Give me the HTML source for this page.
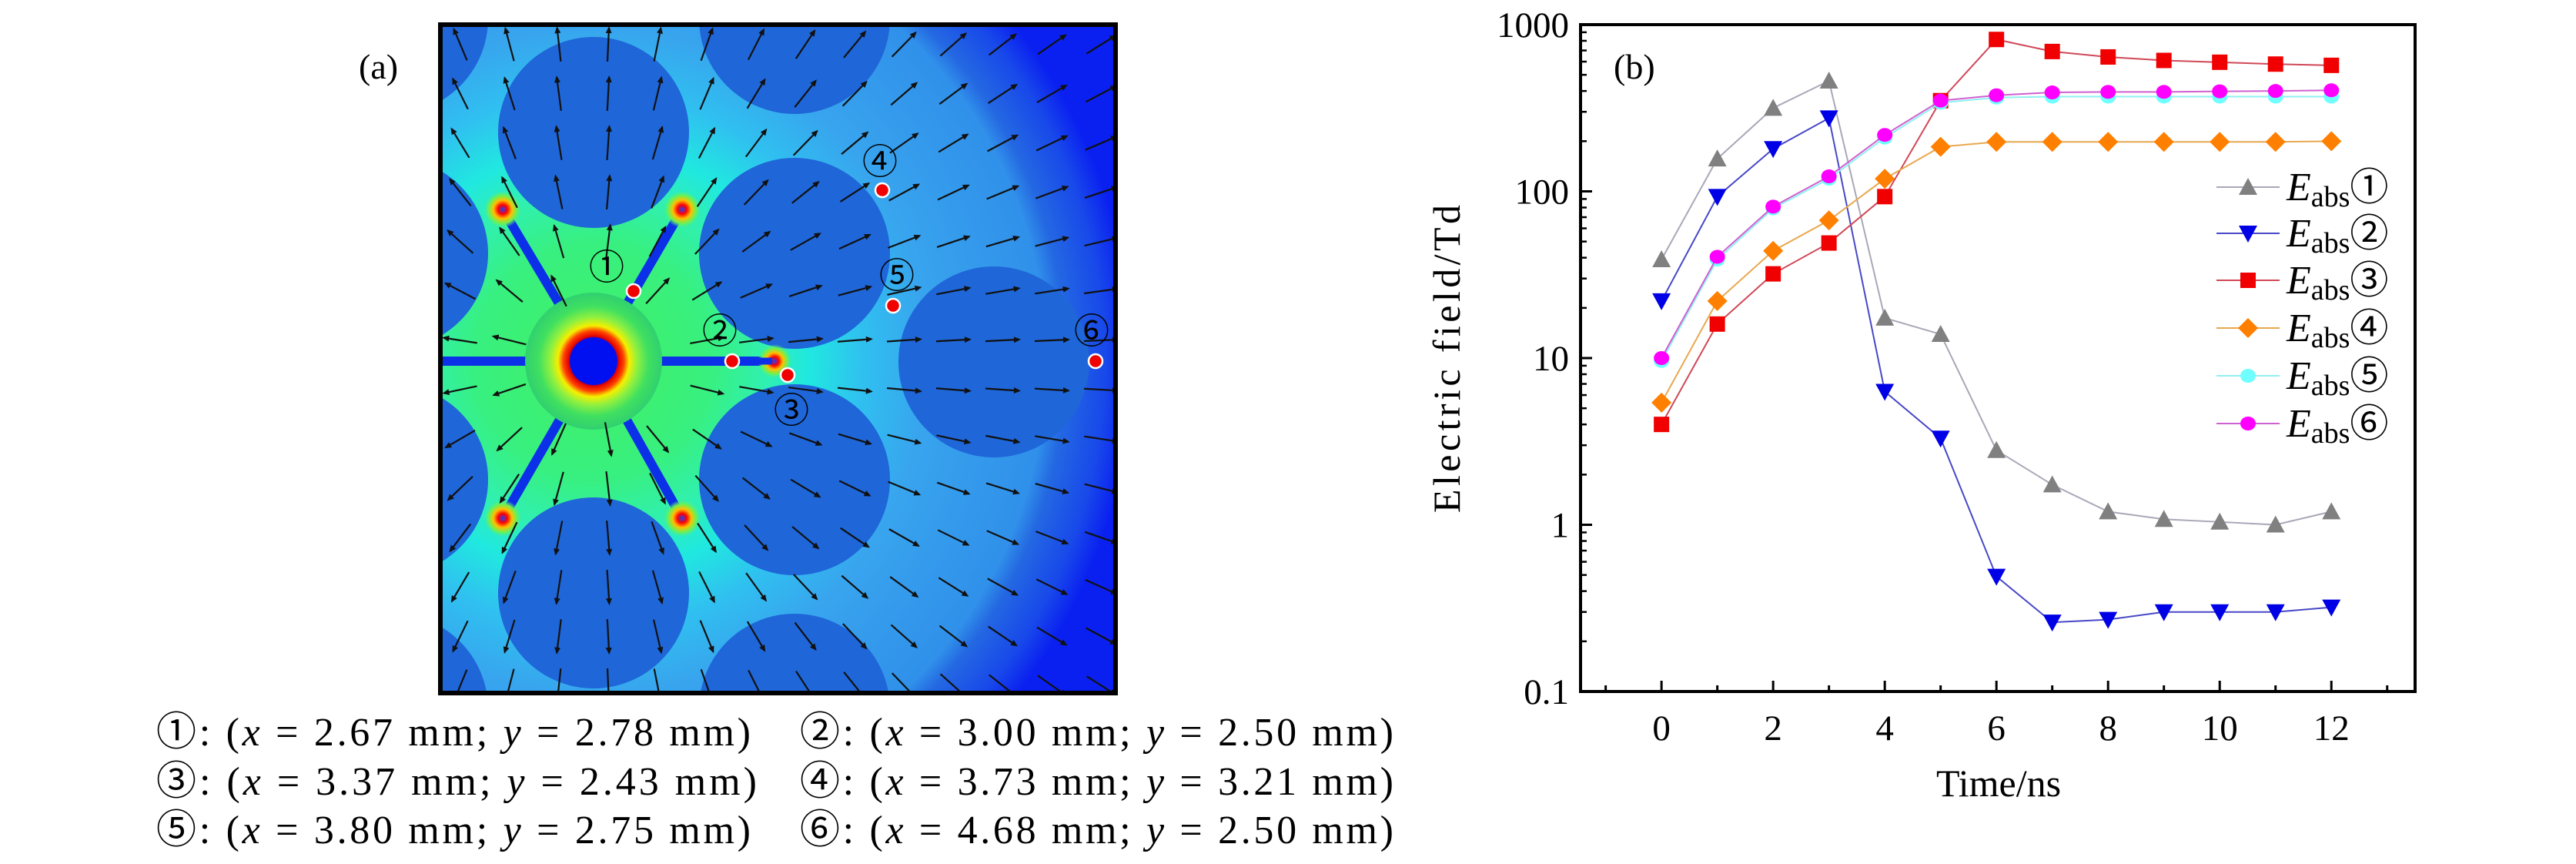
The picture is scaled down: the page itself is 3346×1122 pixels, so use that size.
<!DOCTYPE html>
<html><head><meta charset="utf-8"><style>
html,body{margin:0;padding:0;background:#fff;}
svg{display:block;}
.serif{font-family:"Liberation Serif",serif;}
</style></head><body>
<svg id="root" width="3346" height="1122" viewBox="0 0 3346 1122" xmlns="http://www.w3.org/2000/svg">
<defs>
  <clipPath id="fclip"><rect x="572" y="32" width="877" height="868"/></clipPath>
  <radialGradient id="bgGrad" gradientUnits="userSpaceOnUse" cx="771" cy="469" r="700">
    <stop offset="0" stop-color="#40f060"/>
    <stop offset="0.22" stop-color="#38f080"/>
    <stop offset="0.32" stop-color="#30f0b0"/>
    <stop offset="0.40" stop-color="#20e8e0"/>
    <stop offset="0.50" stop-color="#30c0f0"/>
    <stop offset="0.62" stop-color="#38a4ee"/>
    <stop offset="0.84" stop-color="#3090ea"/>
    <stop offset="0.875" stop-color="#2468e2"/>
    <stop offset="0.95" stop-color="#1848ea"/>
    <stop offset="1" stop-color="#0a20f0"/>
  </radialGradient>
  <radialGradient id="coreGrad" gradientUnits="userSpaceOnUse" cx="771" cy="469" r="89">
    <stop offset="0.34" stop-color="#0010f0"/>
    <stop offset="0.36" stop-color="#e00000"/>
    <stop offset="0.44" stop-color="#ff4000"/>
    <stop offset="0.52" stop-color="#f4f000"/>
    <stop offset="0.64" stop-color="#90f040"/>
    <stop offset="0.8" stop-color="#40e060"/>
    <stop offset="1" stop-color="#30d070"/>
  </radialGradient>
  <radialGradient id="hotGrad">
    <stop offset="0" stop-color="#2040ff"/>
    <stop offset="0.25" stop-color="#ff0000"/>
    <stop offset="0.5" stop-color="#ffc000"/>
    <stop offset="0.75" stop-color="#70f050"/>
    <stop offset="1" stop-color="#50f080" stop-opacity="0"/>
  </radialGradient>
  <marker id="ah" markerWidth="10" markerHeight="10" refX="7" refY="4" orient="auto" markerUnits="userSpaceOnUse"><path d="M0,0 L9,4 L0,8 z" fill="#111"/></marker>
</defs>

<g id="panelA">
  <g clip-path="url(#fclip)" id="fieldG">
    <rect x="572" y="32" width="877" height="868" fill="url(#bgGrad)"/>
  </g>
  <rect x="572" y="32" width="877" height="868" fill="none" stroke="#000" stroke-width="6"/>
  <text x="466" y="102" class="serif" font-size="46">(a)</text>
</g>

<g id="captions" class="serif" font-size="52">
  <text x="203" y="968" textLength="772" lengthAdjust="spacing"><tspan font-family="Noto Sans CJK JP, sans-serif">①</tspan>: (<tspan font-style="italic">x</tspan> = 2.67 mm; <tspan font-style="italic">y</tspan> = 2.78 mm)</text>
  <text x="1039" y="968" textLength="771" lengthAdjust="spacing"><tspan font-family="Noto Sans CJK JP, sans-serif">②</tspan>: (<tspan font-style="italic">x</tspan> = 3.00 mm; <tspan font-style="italic">y</tspan> = 2.50 mm)</text>
  <text x="203" y="1032" textLength="780" lengthAdjust="spacing"><tspan font-family="Noto Sans CJK JP, sans-serif">③</tspan>: (<tspan font-style="italic">x</tspan> = 3.37 mm; <tspan font-style="italic">y</tspan> = 2.43  mm)</text>
  <text x="1039" y="1032" textLength="771" lengthAdjust="spacing"><tspan font-family="Noto Sans CJK JP, sans-serif">④</tspan>: (<tspan font-style="italic">x</tspan> = 3.73 mm; <tspan font-style="italic">y</tspan> = 3.21 mm)</text>
  <text x="203" y="1095" textLength="772" lengthAdjust="spacing"><tspan font-family="Noto Sans CJK JP, sans-serif">⑤</tspan>: (<tspan font-style="italic">x</tspan> = 3.80 mm; <tspan font-style="italic">y</tspan> = 2.75 mm)</text>
  <text x="1039" y="1095" textLength="771" lengthAdjust="spacing"><tspan font-family="Noto Sans CJK JP, sans-serif">⑥</tspan>: (<tspan font-style="italic">x</tspan> = 4.68 mm; <tspan font-style="italic">y</tspan> = 2.50 mm)</text>
</g>

<g id="chart"></g>
</svg>

<script>
// ---------- chart data ----------
const times = [0,1,2,3,4,5,6,7,8,9,10,11,12];
const e1 = [39,157,316,460,17.4,13.9,2.8,1.74,1.2,1.08,1.04,1.0,1.2];
const e2 = [22,93,180,275,6.3,3.3,0.49,0.26,0.27,0.3,0.3,0.3,0.32];
const e3 = [4.0,16,32,49,93,350,815,690,640,610,595,580,570];
const e4 = [5.4,22,44,67,119,185,198,198,198,198,198,198,200];
const e5 = [9.6,39,79,119,210,340,365,370,370,370,370,370,370];
const e6 = [10,40.5,81,123,218,350,377,392,395,395,398,400,404];
const yTickVals = [0.1,1,10,100,1000];
const yTickLabels = ["0.1","1","10","100","1000"];
const xTickVals = [0,2,4,6,8,10,12];
const xTickLabels = ["0","2","4","6","8","10","12"];
const legendLabels = ["①","②","③","④","⑤","⑥"];

const NS = "http://www.w3.org/2000/svg";
function mk(tag, attrs, parent){const e=document.createElementNS(NS,tag);for(const k in attrs)e.setAttribute(k,attrs[k]);if(parent)parent.appendChild(e);return e;}

const L=2053,R=3137,T=32,B=898;
const X0=-1.45,X1=13.5;
function xs(t){return L+(t-X0)/(X1-X0)*(R-L);}
function ys(v){return T+(3-Math.log10(v))*(B-T)/4;}

const chart=document.getElementById('chart');

const frame=mk('rect',{x:L,y:T,width:R-L,height:B-T,fill:'none',stroke:'#000','stroke-width':4},chart);



for(let d=-1;d<3;d++){
  for(let m=2;m<10;m++){
    const yy=ys(m*Math.pow(10,d));
    const tk=mk('line',{x1:L,x2:L+8,y1:yy,y2:yy,stroke:'#000','stroke-width':2.5},chart);
    
    
  }
}
yTickVals.forEach((v,i)=>{
  const yy=ys(v);
  const tk=mk('line',{x1:L,x2:L+15,y1:yy,y2:yy,stroke:'#000','stroke-width':3},chart);
  
  
  const lb=mk('text',{x:2038,y:yy+16,'text-anchor':'end','font-size':47,'font-family':'Liberation Serif, serif'},chart);
  lb.textContent=yTickLabels[i];
  
  
});
for(let t=-1;t<=13;t++){
  const xx=xs(t);const major=(t%2===0);
  const tk=mk('line',{x1:xx,x2:xx,y1:B,y2:B-(major?14:8),stroke:'#000','stroke-width':3},chart);
  
  
}
xTickVals.forEach((v,i)=>{
  const lb=mk('text',{x:xs(v),y:961,'text-anchor':'middle','font-size':47,'font-family':'Liberation Serif, serif'},chart);
  lb.textContent=xTickLabels[i];
  
  
});
const xt=mk('text',{x:2596,y:1034,'text-anchor':'middle','font-size':50,'font-family':'Liberation Serif, serif'},chart);
xt.textContent='Time/ns';


const yt=mk('text',{x:0,y:0,'text-anchor':'middle','font-size':50,'font-family':'Liberation Serif, serif',transform:'translate(1896,466) rotate(-90)',textLength:400,lengthAdjust:'spacing'},chart);
yt.textContent='Electric field/Td';


const bl=mk('text',{x:2096,y:102,'font-size':46,'font-family':'Liberation Serif, serif'},chart);
bl.textContent='(b)';



const series=[
 {vals:e1,fill:'#808080',line:'#a8a8b8',shape:'up'},
 {vals:e2,fill:'#0000e6',line:'#4848c8',shape:'down'},
 {vals:e3,fill:'#f00000',line:'#d04858',shape:'square'},
 {vals:e4,fill:'#ff8000',line:'#e8a850',shape:'diamond'},
 {vals:e5,fill:'#70ffff',line:'#90f0f0',shape:'circle'},
 {vals:e6,fill:'#ff00ff',line:'#d060d0',shape:'circle'}
];
function marker(shape,cx,cy,fill,g,sc){
  sc=sc||1;let e;
  if(shape==='up'){const w=12*sc,h=10*sc;e=mk('polygon',{points:`${cx-w},${cy+h} ${cx+w},${cy+h} ${cx},${cy-h-2}`,fill:fill},g);}
  else if(shape==='down'){const w=12*sc,h=10*sc;e=mk('polygon',{points:`${cx-w},${cy-h} ${cx+w},${cy-h} ${cx},${cy+h+2}`,fill:fill},g);}
  else if(shape==='square'){const s=10*sc;e=mk('rect',{x:cx-s,y:cy-s,width:2*s,height:2*s,fill:fill},g);}
  else if(shape==='diamond'){const s=13*sc;e=mk('polygon',{points:`${cx},${cy-s} ${cx+s},${cy} ${cx},${cy+s} ${cx-s},${cy}`,fill:fill},g);}
  else {e=mk('ellipse',{cx:cx,cy:cy,rx:10*sc,ry:9*sc,fill:fill},g);}
  return e;
}
series.forEach((s,si)=>{
  const g=mk('g',{},chart);
  
  
  const pts=times.map((t,i)=>xs(t)+','+ys(s.vals[i])).join(' ');
  const pl=mk('polyline',{points:pts,fill:'none',stroke:s.line,'stroke-width':2},g);
  
  
  times.forEach((t,i)=>{
    const m=marker(s.shape,xs(t),ys(s.vals[i]),s.fill,g);
    
    
  });
});

const legYs=[243,303,364,426,488,550];
const lg=mk('g',{},chart);


series.forEach((s,i)=>{
  const y=legYs[i];
  const row=mk('g',{},lg);
  
  
  mk('line',{x1:2879,x2:2961,y1:y,y2:y,stroke:s.line,'stroke-width':2},row);
  marker(s.shape,2920,y,s.fill,row);
  const tx=mk('text',{x:2970,y:y+17,'font-size':52,'font-family':'Liberation Serif, serif'},row);
  const e=mk('tspan',{'font-style':'italic'},tx);e.textContent='E';
  const sub=mk('tspan',{'font-size':38,dy:8},tx);sub.textContent='abs';
  const n=mk('tspan',{'font-family':'Noto Sans CJK JP, sans-serif','font-size':50,dy:-8},tx);n.textContent=legendLabels[i];
});

// ---------- panel (a) field map ----------
const fg=document.getElementById('fieldG');
const blobs=[[771,172],[771,770],[1032,329],[1032,623],[1291,470],[1032,24],[1032,921],[510,329],[510,623],[510,24],[510,921]];
blobs.forEach(c=>{
  const e=mk('circle',{cx:c[0],cy:c[1],r:124,fill:'#1f66d8'},fg);
  
  
});
const hot=[[653,272],[886,272],[653,673],[886,673],[1010,469]];
hot.concat([[572,469]]).forEach(h=>{
  const w=mk('line',{x1:771,y1:469,x2:h[0],y2:h[1],stroke:'#0c30e8','stroke-width':12,'stroke-linecap':'round'},fg);
  
  
});
const core=mk('circle',{cx:771,cy:469,r:89,fill:'url(#coreGrad)'},fg);


hot.slice(0,4).forEach(h=>{
  const e=mk('circle',{cx:h[0],cy:h[1],r:24,fill:'url(#hotGrad)'},fg);
  
  
});
const h5=mk('circle',{cx:1006,cy:469,r:22,fill:'url(#hotGrad)'},fg);


mk('line',{x1:951,y1:469,x2:1003,y2:469,stroke:'#0c30e8','stroke-width':9},fg);
const ag=mk('g',{},fg);


for(let gx=598;gx<1449;gx+=64){
  for(let gy=58;gy<900;gy+=64){
    let dx=gx-771,dy=gy-469;const d=Math.hypot(dx,dy);
    if(d<95)continue;
    dx/=d;dy/=d;const len=44;
    mk('line',{x1:gx-dx*len/2,y1:gy-dy*len/2,x2:gx+dx*len/2,y2:gy+dy*len/2,stroke:'#111','stroke-width':2.2,'marker-end':'url(#ah)'},ag);
  }
}
const probes=[[823,378],[951,469],[1023,487],[1146,247],[1160,397],[1423,469]];
const probeLabels=[[788,347],[935,430],[1028,533],[1143,210],[1165,358],[1418,430]];
const pa=document.getElementById('panelA');
probes.forEach((p,i)=>{
  const c=mk('circle',{cx:p[0],cy:p[1],r:9,fill:'#f00000',stroke:'#fff','stroke-width':2.5},pa);
  
  
  const t=mk('text',{x:probeLabels[i][0],y:probeLabels[i][1]+16,'text-anchor':'middle','font-size':46,'font-family':'Noto Sans CJK JP, sans-serif',fill:'#000'},pa);
  t.textContent=legendLabels[i];
  
  
});
</script>
</body></html>
